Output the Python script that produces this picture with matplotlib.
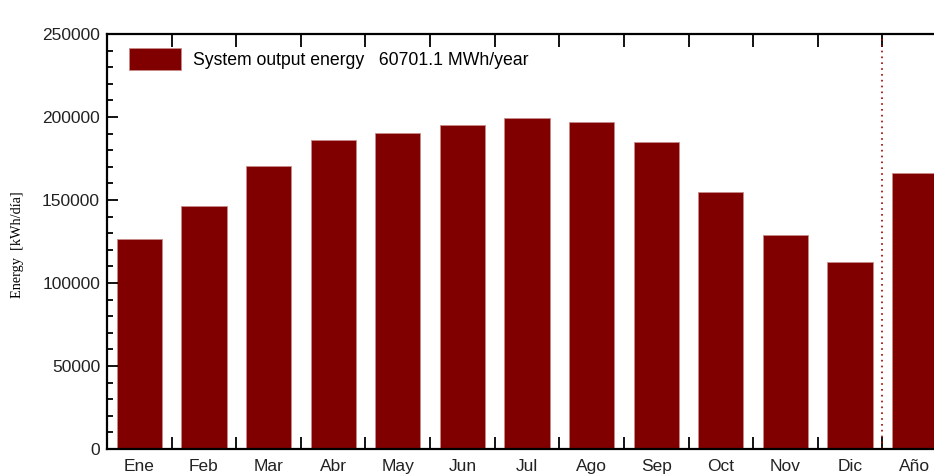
# Energía mensual del sistema

import numpy as np
import matplotlib.pyplot as plt
from matplotlib.ticker import MultipleLocator, FixedLocator

# Datos
meses = ["Ene", "Feb", "Mar", "Abr", "May", "Jun", "Jul", "Ago", "Sep", "Oct", "Nov", "Dic", "Año"]
energia = [126800, 146600, 170600, 186200, 190400, 195300, 199400, 197200, 185000, 154800, 128700, 112900, 166300]
etiqueta = "System output energy   60701.1 MWh/year"

plt.rcParams['font.family'] = ['Liberation Sans', 'DejaVu Sans']

def ve():
    fig = plt.figure(figsize=(9.34, 4.76), dpi=100)
    ax = fig.add_axes([107 / 934, 27 / 476, 840 / 934, 415 / 476])

    x = np.arange(len(meses))
    ax.bar(x, energia, width=0.7, color="#800000", edgecolor="#c98a8a", linewidth=0.6, label=etiqueta)
    ax.axvline(11.5, color="#a00000", linestyle=(0, (1, 2.5)), linewidth=1.2)

    ax.set_xlim(-0.5, 12.5)
    ax.set_ylim(0, 250000)

    # ejes
    for s in ax.spines.values():
        s.set_linewidth(1.6)
    ax.yaxis.set_major_locator(MultipleLocator(50000))
    ax.yaxis.set_minor_locator(MultipleLocator(10000))
    ax.tick_params(axis="y", which="major", direction="in", length=8, width=1.3, labelsize=12.5, pad=5, labelcolor="#222222")
    ax.tick_params(axis="y", which="minor", direction="in", length=4, width=1.3)

    ax.xaxis.set_major_locator(FixedLocator(x[:-1] + 0.5))
    ax.xaxis.set_minor_locator(FixedLocator(x))
    ax.set_xticklabels([], minor=False)
    ax.set_xticklabels(meses, minor=True)
    ax.tick_params(axis="x", which="major", direction="in", length=9, width=1.3, top=True)
    ax.tick_params(axis="x", which="minor", length=0, labelsize=12.5, pad=7, labelcolor="#222222")

    fig.text(18 / 934, 231 / 476, "Energy  [kWh/día]", rotation=90, ha="center", va="center",
             fontsize=10.3, family=["Liberation Serif", "DejaVu Serif"])

    ax.legend(loc="upper left", bbox_to_anchor=(0.012, 0.995), frameon=False, fontsize=12.7,
              handlelength=2.9, handleheight=1.5, handletextpad=0.7, borderaxespad=0.3)

    fig.savefig("out.png", dpi=100)

ve()
